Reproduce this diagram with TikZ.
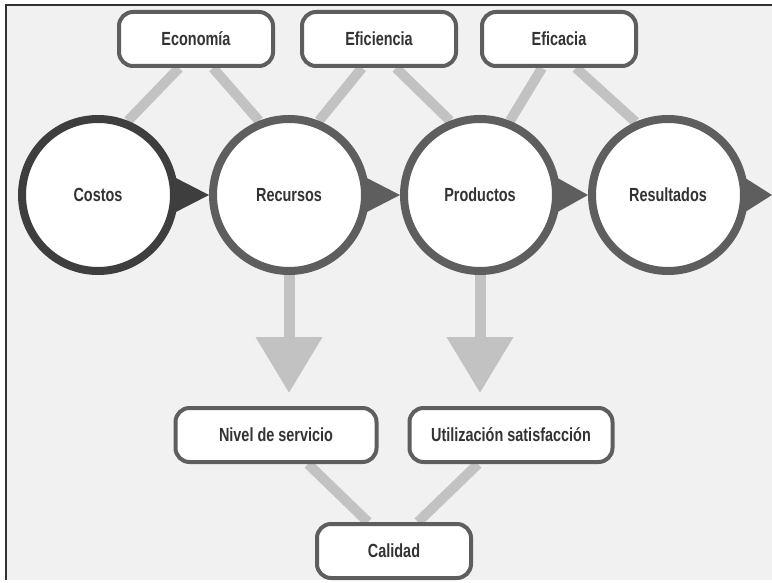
\documentclass[tikz,border=0pt]{standalone}
\usepackage{fontspec}
\setmainfont{Liberation Sans}[FakeStretch=0.76]
\usepackage{tikz}
\usetikzlibrary{arrows.meta,backgrounds,calc}
\definecolor{ink}{HTML}{5E5E5E}
\definecolor{inkdark}{HTML}{3E3E3E}
\definecolor{txt}{HTML}{333333}
\definecolor{linkgray}{HTML}{C2C2C2}
\definecolor{paper}{HTML}{F1F1F1}
\tikzset{
    stage/.style={draw=ink, line width=8pt, circle, fill=white, minimum size=152pt, inner sep=0pt, text=txt, font=\fontsize{19}{22}\selectfont\bfseries},
    box/.style={draw=ink, line width=4pt, rounded corners=14pt, fill=white, minimum width=154pt, minimum height=54pt, text=txt, font=\fontsize{19}{22}\selectfont\bfseries},
    tie/.style={linkgray, line width=10pt},
    drop/.style={-{Triangle[length=56pt, width=64pt]}, linkgray, line width=11pt, shorten >=13pt}
}

\begin{document}
\begin{tikzpicture}[x=1pt, y=-1pt]
    \useasboundingbox (0,0) rectangle (772,583);
    \node[stage, draw=inkdark] (cost) at (98,195) {Costos};
    \node[stage] (recu) at (289,195) {Recursos};
    \node[stage] (prod) at (480,195) {Productos};
    \node[stage] (resu) at (668,195) {Resultados};
    \coordinate (rim) at (772,195);

    \node[box] (econ) at (196,39) {Economía};
    \node[box] (efin) at (379,39) {Eficiencia};
    \node[box] (efic) at (559,39) {Eficacia};

    \node[box, minimum width=201pt] (nivel) at (276,435) {Nivel de servicio};
    \node[box, minimum width=203pt] (util) at (511,435) {Utilización satisfacción};
    \node[box] (cali) at (394,551) {Calidad};

    \begin{scope}[on background layer]
        \fill[paper] (6,5) rectangle (772,580);
        \draw[line width=1.5pt, black!80] (6,580) -- (6,5) -- (772,5);

        \draw[tie] ([xshift=-17pt]econ.south) -- (cost.68);
        \draw[tie] ([xshift=17pt]econ.south) -- (recu.112);
        \draw[tie] ([xshift=-17pt]efin.south) -- (recu.68);
        \draw[tie] ([xshift=17pt]efin.south) -- (prod.112);
        \draw[tie] ([xshift=-17pt]efic.south) -- (prod.68);
        \draw[tie] ([xshift=17pt]efic.south) -- (resu.114);

        \fill[inkdark] ([xshift=-6pt, yshift=19pt]cost.east) -- (recu.west) -- ([xshift=-6pt, yshift=-19pt]cost.east) -- cycle;
        \fill[ink] ([xshift=-6pt, yshift=19pt]recu.east) -- (prod.west) -- ([xshift=-6pt, yshift=-19pt]recu.east) -- cycle;
        \fill[ink] ([xshift=-6pt, yshift=19pt]prod.east) -- (resu.west) -- ([xshift=-6pt, yshift=-19pt]prod.east) -- cycle;
        \fill[ink] ([xshift=-6pt, yshift=19pt]resu.east) -- (rim) -- ([xshift=-6pt, yshift=-19pt]resu.east) -- cycle;

        \draw[drop] (recu.south) -- (recu.south |- nivel.north);
        \draw[drop] (prod.south) -- (prod.south |- util.north);

        \draw[tie] ([xshift=32pt]nivel.south) -- ([xshift=-26pt]cali.north);
        \draw[tie] ([xshift=-33pt]util.south) -- ([xshift=24pt]cali.north);
    \end{scope}
\end{tikzpicture}
\end{document}
